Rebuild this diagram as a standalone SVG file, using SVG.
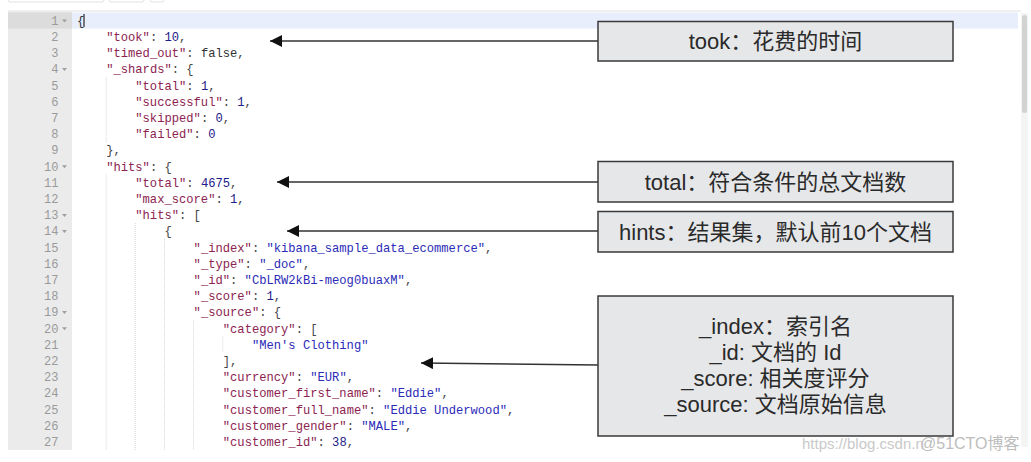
<svg xmlns="http://www.w3.org/2000/svg" width="1031" height="462" viewBox="0 0 1031 462">
<style>
.code{font-family:"Liberation Mono","DejaVu Sans Mono",monospace;font-size:12.15px;fill:#444;white-space:pre}
.ln{font-family:"Liberation Mono","DejaVu Sans Mono",monospace;font-size:12px;fill:#9a9a9a;text-anchor:end}
.k{fill:#8c2350}
.s{fill:#2b2bb8}
.n{fill:#1d2088}
.b{fill:#333}
.guide{stroke:#d6d6d6;stroke-width:1;stroke-dasharray:1 1}
.fold{fill:#a0a0a0}
.box{fill:#e6e7e9;stroke:#3a3a3a;stroke-width:1.5}
.lbl{font-family:"Liberation Sans","Noto Sans CJK SC",sans-serif;font-size:22px;fill:#2a2a2a;text-anchor:middle}
.arrow{stroke:#333;stroke-width:1.6;fill:none}
.wm{font-family:"Liberation Sans","Noto Sans CJK SC",sans-serif;font-size:15px;fill:#c9c9c9}
</style>
<defs>
<marker id="ah" markerUnits="userSpaceOnUse" markerWidth="14" markerHeight="14" refX="12" refY="6" orient="auto">
<path d="M0,0 L12,6 L0,12 z" fill="#111"/>
</marker>
</defs>
<rect width="1031" height="462" fill="#ffffff"/>
<!-- toolbar remnants -->
<g id="toolbar">
<rect x="8" y="-6" width="96" height="8" rx="2" fill="none" stroke="#e2e2e2"/>
<rect x="109" y="-6" width="35" height="8" rx="2" fill="none" stroke="#e2e2e2"/>
<rect x="150" y="-6" width="14" height="8" rx="2" fill="none" stroke="#e2e2e2"/>
</g>
<g id="editor">
<rect x="8" y="11" width="1013" height="439" fill="#ffffff"/>
<line x1="8" y1="11" x2="1021" y2="11" stroke="#e0e0e0"/>
<rect x="8" y="11.5" width="64" height="438.5" fill="#ebebeb"/>
<rect x="8" y="12.4" width="64" height="16.2" fill="#dcdcdc"/>
<rect x="72" y="12.4" width="946" height="16.2" fill="#e8eefb"/>
<rect x="1021" y="13" width="7" height="434" fill="#f4f4f4"/>
<rect x="1022" y="15" width="5" height="98" rx="2.5" fill="#d2d2d2"/>
<line x1="84" y1="14" x2="84" y2="27" stroke="#000" stroke-width="1"/>
</g>
<g id="guides">
<line class="guide" x1="106.2" y1="77.2" x2="106.2" y2="142.4"/>
<line class="guide" x1="106.2" y1="174.4" x2="106.2" y2="450"/>
<line class="guide" x1="135.3" y1="223" x2="135.3" y2="450"/>
<line class="guide" x1="164.5" y1="239.2" x2="164.5" y2="450"/>
<line class="guide" x1="193.6" y1="320.2" x2="193.6" y2="450"/>
<line class="guide" x1="222.8" y1="336.4" x2="222.8" y2="352.6"/>
</g>
<g id="linenumbers">
<text class="ln" x="58.5" y="24.8">1</text>
<text class="ln" x="58.5" y="41.0">2</text>
<text class="ln" x="58.5" y="57.2">3</text>
<text class="ln" x="58.5" y="73.4">4</text>
<text class="ln" x="58.5" y="89.6">5</text>
<text class="ln" x="58.5" y="105.8">6</text>
<text class="ln" x="58.5" y="122.0">7</text>
<text class="ln" x="58.5" y="138.2">8</text>
<text class="ln" x="58.5" y="154.4">9</text>
<text class="ln" x="58.5" y="170.6">10</text>
<text class="ln" x="58.5" y="186.8">11</text>
<text class="ln" x="58.5" y="203.0">12</text>
<text class="ln" x="58.5" y="219.2">13</text>
<text class="ln" x="58.5" y="235.4">14</text>
<text class="ln" x="58.5" y="251.6">15</text>
<text class="ln" x="58.5" y="267.8">16</text>
<text class="ln" x="58.5" y="284.0">17</text>
<text class="ln" x="58.5" y="300.2">18</text>
<text class="ln" x="58.5" y="316.4">19</text>
<text class="ln" x="58.5" y="332.6">20</text>
<text class="ln" x="58.5" y="348.8">21</text>
<text class="ln" x="58.5" y="365.0">22</text>
<text class="ln" x="58.5" y="381.2">23</text>
<text class="ln" x="58.5" y="397.4">24</text>
<text class="ln" x="58.5" y="413.6">25</text>
<text class="ln" x="58.5" y="429.8">26</text>
<text class="ln" x="58.5" y="446.0">27</text>
<path class="fold" d="M62,19.5 h5 l-2.5,3 z M62,68.1 h5 l-2.5,3 z M62,165.3 h5 l-2.5,3 z M62,213.9 h5 l-2.5,3 z M62,230.1 h5 l-2.5,3 z M62,311.1 h5 l-2.5,3 z M62,327.3 h5 l-2.5,3 z"/>
</g>
<g id="code">
<text class="code" x="77" y="24.8"><tspan class="b">{</tspan></text>
<text class="code" x="106.2" y="41.0"><tspan class="k">"took"</tspan>: <tspan class="n">10</tspan>,</text>
<text class="code" x="106.2" y="57.2"><tspan class="k">"timed_out"</tspan>: <tspan class="b">false</tspan>,</text>
<text class="code" x="106.2" y="73.4"><tspan class="k">"_shards"</tspan>: {</text>
<text class="code" x="135.3" y="89.6"><tspan class="k">"total"</tspan>: <tspan class="n">1</tspan>,</text>
<text class="code" x="135.3" y="105.8"><tspan class="k">"successful"</tspan>: <tspan class="n">1</tspan>,</text>
<text class="code" x="135.3" y="122.0"><tspan class="k">"skipped"</tspan>: <tspan class="n">0</tspan>,</text>
<text class="code" x="135.3" y="138.2"><tspan class="k">"failed"</tspan>: <tspan class="n">0</tspan></text>
<text class="code" x="106.2" y="154.4">},</text>
<text class="code" x="106.2" y="170.6"><tspan class="k">"hits"</tspan>: {</text>
<text class="code" x="135.3" y="186.8"><tspan class="k">"total"</tspan>: <tspan class="n">4675</tspan>,</text>
<text class="code" x="135.3" y="203.0"><tspan class="k">"max_score"</tspan>: <tspan class="n">1</tspan>,</text>
<text class="code" x="135.3" y="219.2"><tspan class="k">"hits"</tspan>: [</text>
<text class="code" x="164.5" y="235.4">{</text>
<text class="code" x="193.6" y="251.6"><tspan class="k">"_index"</tspan>: <tspan class="s">"kibana_sample_data_ecommerce"</tspan>,</text>
<text class="code" x="193.6" y="267.8"><tspan class="k">"_type"</tspan>: <tspan class="s">"_doc"</tspan>,</text>
<text class="code" x="193.6" y="284.0"><tspan class="k">"_id"</tspan>: <tspan class="s">"CbLRW2kBi-meog0buaxM"</tspan>,</text>
<text class="code" x="193.6" y="300.2"><tspan class="k">"_score"</tspan>: <tspan class="n">1</tspan>,</text>
<text class="code" x="193.6" y="316.4"><tspan class="k">"_source"</tspan>: {</text>
<text class="code" x="222.8" y="332.6"><tspan class="k">"category"</tspan>: [</text>
<text class="code" x="251.9" y="348.8"><tspan class="s">"Men's Clothing"</tspan></text>
<text class="code" x="222.8" y="365.0">],</text>
<text class="code" x="222.8" y="381.2"><tspan class="k">"currency"</tspan>: <tspan class="s">"EUR"</tspan>,</text>
<text class="code" x="222.8" y="397.4"><tspan class="k">"customer_first_name"</tspan>: <tspan class="s">"Eddie"</tspan>,</text>
<text class="code" x="222.8" y="413.6"><tspan class="k">"customer_full_name"</tspan>: <tspan class="s">"Eddie Underwood"</tspan>,</text>
<text class="code" x="222.8" y="429.8"><tspan class="k">"customer_gender"</tspan>: <tspan class="s">"MALE"</tspan>,</text>
<text class="code" x="222.8" y="446.0"><tspan class="k">"customer_id"</tspan>: <tspan class="n">38</tspan>,</text>
</g>
<g id="connectors">
<line class="arrow" x1="598" y1="41" x2="270" y2="41" marker-end="url(#ah)"/>
<line class="arrow" x1="598" y1="182" x2="277" y2="182" marker-end="url(#ah)"/>
<line class="arrow" x1="598" y1="231" x2="287" y2="231" marker-end="url(#ah)"/>
<line class="arrow" x1="598" y1="365" x2="421" y2="363" marker-end="url(#ah)"/>
</g>
<g id="box-took">
<rect class="box" x="598" y="21.5" width="355" height="39.5"/>
<text class="lbl" x="775.5" y="49">took：花费的时间</text>
</g>
<g id="box-total">
<rect class="box" x="598" y="161.5" width="355" height="40.5"/>
<text class="lbl" x="775.5" y="189.5">total：符合条件的总文档数</text>
</g>
<g id="box-hits">
<rect class="box" x="598" y="211.5" width="355" height="40.5"/>
<text class="lbl" x="775.5" y="239.5">hints：结果集，默认前10个文档</text>
</g>
<g id="box-fields">
<rect class="box" x="598" y="296" width="355" height="140"/>
<text class="lbl" x="775.5" y="334">_index：索引名</text>
<text class="lbl" x="775.5" y="360">_id: 文档的 Id</text>
<text class="lbl" x="775.5" y="386">_score: 相关度评分</text>
<text class="lbl" x="775.5" y="412">_source: 文档原始信息</text>
</g>
<g id="watermark">
<text class="wm" x="802" y="449">https://blog.csdn.n</text>
<text class="wm" x="920" y="449" style="font-size:16px;fill:#bdbdbd">@51CTO博客</text>
</g>
</svg>
